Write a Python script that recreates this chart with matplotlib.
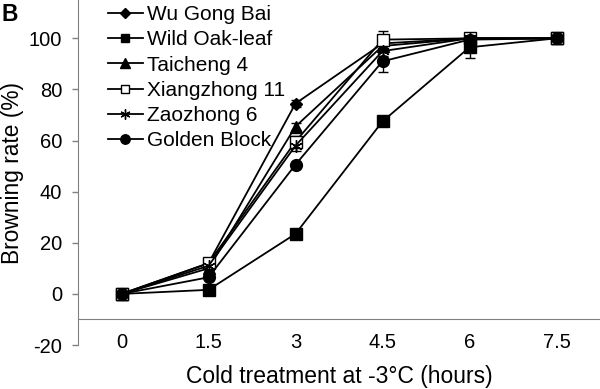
import matplotlib.pyplot as plt
from matplotlib.lines import Line2D

plt.rcParams["font.family"] = ["Liberation Sans", "DejaVu Sans"]
plt.rcParams["axes.unicode_minus"] = False

hours = [0, 1.5, 3, 4.5, 6, 7.5]
hour_labels = ["0", "1.5", "3", "4.5", "6", "7.5"]

wu_gong_bai = [0, 12, 74.5, 98, 100, 100]
wild_oak_leaf = [0, 1.6, 23.5, 67.5, 96.5, 100]
taicheng_4 = [0, 10, 65.5, 97, 100, 100]
xiangzhong_11 = [0, 12, 59.6, 99.5, 100, 100]
zaozhong_6 = [0, 11, 58, 95, 100, 100]
golden_block = [0, 6.5, 50.6, 91, 99.5, 100]

wu_gong_bai_err = [0, 1, 1.5, 2, 0, 0]
wild_oak_leaf_err = [0, 0.5, 1, 1, 4, 0]
taicheng_4_err = [0, 1, 1.5, 2, 0, 0]
xiangzhong_11_err = [0, 1, 2, 3.5, 0, 0]
zaozhong_6_err = [0, 1, 2, 2, 0, 0]
golden_block_err = [0, 1, 1, 4, 1, 0]

series = [
    ("Wu Gong Bai", wu_gong_bai, wu_gong_bai_err, "D", "black", 6.5),
    ("Wild Oak-leaf", wild_oak_leaf, wild_oak_leaf_err, "s", "black", 8),
    ("Taicheng 4", taicheng_4, taicheng_4_err, "^", "black", 8.5),
    ("Xiangzhong 11", xiangzhong_11, xiangzhong_11_err, "s", "white", 8),
    ("Zaozhong 6", zaozhong_6, zaozhong_6_err, (6, 2, 0), "black", 9),
    ("Golden Block", golden_block, golden_block_err, "o", "black", 8.5),
]

fig = plt.figure(figsize=(6, 3.89), dpi=100)
ax = fig.add_axes([0.13, 0.113, 0.87, 0.887])

handles = []
for name, values, err, marker, face, size in series:
    ax.errorbar(hours, values, yerr=err, color="black", linewidth=1.3,
                marker=marker, markersize=size, markerfacecolor=face,
                markeredgecolor="black", markeredgewidth=1.0,
                capsize=3.5, capthick=1.0, elinewidth=1.0)
    handles.append(Line2D([], [], color="black", linewidth=1.3, marker=marker,
                          markersize=size * 0.8, markerfacecolor=face,
                          markeredgecolor="black", label=name))

ax.set_xlim(-0.75, 8.25)
ax.set_ylim(-20, 115)
ax.set_yticks([-20, 0, 20, 40, 60, 80, 100])
ax.set_xticks(hours)
ax.set_xticklabels(hour_labels)
ax.tick_params(axis="x", length=0, pad=9.5, labelsize=14.5)
ax.tick_params(axis="y", length=4.3, width=1.0, color="#808080", labelsize=14.5, pad=7)

# horizontal axis crosses at -10, as in the original
ax.spines["bottom"].set_position(("data", -10))
ax.spines["bottom"].set_color("#808080")
ax.spines["left"].set_color("#808080")
for side in ["top", "right"]:
    ax.spines[side].set_visible(False)

ax.set_xlabel("Cold treatment at -3\u00b0C (hours)", fontsize=16.5, va="center")
ax.xaxis.set_label_coords(0.5, -0.09)
ax.set_ylabel("Browning rate (%)", fontsize=16.4, va="center")
ax.yaxis.set_label_coords(-0.126, 0.5)

ax.legend(handles=handles, loc="upper left", bbox_to_anchor=(0.057, 0.985),
          frameon=False, fontsize=15, handlelength=1.7, handletextpad=0.2,
          labelspacing=0.3, borderaxespad=0, borderpad=0)

fig.text(0.003, 0.993, "B", fontsize=16.5, fontweight="bold", va="top", ha="left")

fig.savefig("out.png", dpi=100)
